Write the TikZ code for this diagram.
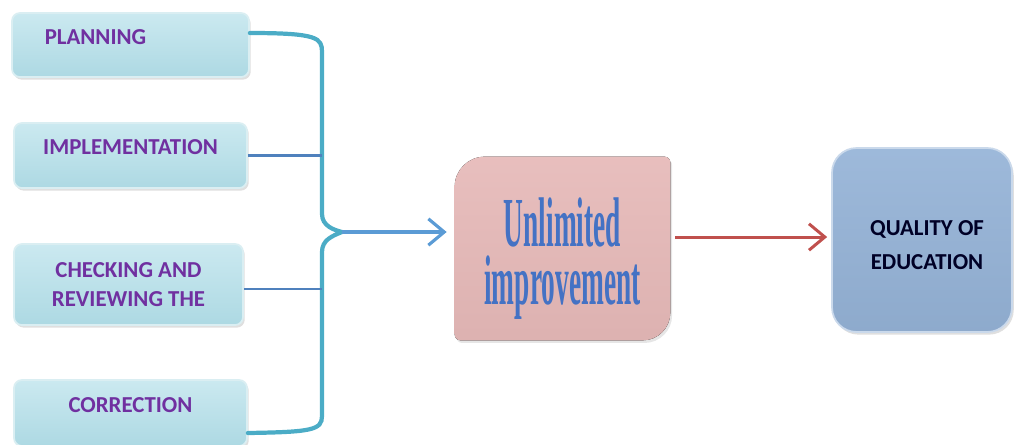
\documentclass[tikz,border=0pt]{standalone}
\usepackage{fontspec}
\setmainfont{Carlito}
\newfontfamily\condserif{Liberation Serif}
\usetikzlibrary{arrows.meta,shadows,backgrounds}
\definecolor{panelfill}{HTML}{ADD9E3}
\definecolor{paneltop}{HTML}{CBE9F0}
\definecolor{paneltext}{HTML}{7030A0}
\definecolor{bracecol}{HTML}{4BACC6}
\definecolor{linkcol}{HTML}{4F81BD}
\definecolor{arrowblue}{HTML}{5B9BD5}
\definecolor{pinkfill}{HTML}{E6B9B8}
\definecolor{redarrow}{HTML}{C0504D}
\definecolor{qualfill}{HTML}{95B3D7}
\definecolor{unltext}{HTML}{4472C4}
\def\lift#1{\raisebox{0.16cm}[\height][\depth]{#1}}
\def\sink#1{\raisebox{-0.2cm}[\height][\depth]{#1}}
\def\squeeze#1{\scalebox{0.39}[1]{#1}}

\begin{document}
\begin{tikzpicture}[x=0.02cm,y=-0.02cm,
  panel/.style={rounded corners=4.5pt,top color=paneltop,bottom color=panelfill,
    draw=white!55!panelfill,line width=1pt,
    drop shadow={opacity=0.25,shadow xshift=1pt,shadow yshift=-1.5pt},
    text=paneltext,font=\fontsize{13}{16.5}\selectfont\bfseries,align=center,
    minimum width=4.66cm,minimum height=1.3cm},
  brace/.style={draw=bracecol,line width=2.4pt,line cap=round},
  link/.style={draw=linkcol,line width=1.3pt},
  bluearrow/.style={draw=arrowblue,line width=1.8pt,
    -{Straight Barb[length=9pt,width=15pt,line width=1.8pt]},shorten >=0.16cm},
  redarr/.style={draw=redarrow,line width=1.7pt,
    -{Straight Barb[length=9pt,width=15pt,line width=1.7pt]},shorten <=0.1cm,shorten >=0.08cm},
  unlbox/.style={minimum width=4.3cm,minimum height=3.66cm,text=unltext,
    font=\condserif\bfseries\fontsize{40}{33}\selectfont,align=center},
  qualbox/.style={rounded corners=14pt,top color=qualfill!92!white,bottom color=qualfill!95!black,
    draw=white!50!qualfill,line width=1pt,
    drop shadow={opacity=0.25,shadow xshift=1pt,shadow yshift=-1.5pt},
    text=black!85!blue,font=\fontsize{13}{19}\selectfont\bfseries,align=center,
    minimum width=3.6cm,minimum height=3.68cm}]
\useasboundingbox (0,0) rectangle (1014,444);

\node[panel,minimum width=4.74cm,minimum height=1.28cm] (plan) at (130.5,45)
  {\lift{\hspace*{-1.4cm}PLANNING}};
\node[panel,minimum height=1.3cm] (impl) at (130.5,155.5) {\lift{IMPLEMENTATION}};
\node[panel,minimum width=4.58cm,minimum height=1.62cm] (check) at (128.5,284.5)
  {CHECKING AND\\REVIEWING THE};
\node[panel,minimum height=1.32cm] (corr) at (130.5,413) {\lift{CORRECTION}};

\node[unlbox] (unl) at (562.5,248.5)
  {\sink{\squeeze{Unlimited}}\\\sink{\squeeze{improvement}}};
\begin{scope}[on background layer]
\fill[top color=pinkfill!92!white,bottom color=pinkfill!96!black,
  drop shadow={opacity=0.2,shadow xshift=1pt,shadow yshift=-1.5pt}]
  ([yshift=-0.6cm]unl.north west)
    .. controls ([yshift=-0.27cm]unl.north west) and ([xshift=0.27cm]unl.north west) .. ([xshift=0.6cm]unl.north west)
  -- ([xshift=-0.12cm]unl.north east)
    .. controls ([xshift=-0.05cm]unl.north east) and ([yshift=-0.05cm]unl.north east) .. ([yshift=-0.12cm]unl.north east)
  -- ([yshift=0.55cm]unl.south east)
    .. controls ([yshift=0.25cm]unl.south east) and ([xshift=-0.25cm]unl.south east) .. ([xshift=-0.55cm]unl.south east)
  -- ([xshift=0.12cm]unl.south west)
    .. controls ([xshift=0.05cm]unl.south west) and ([yshift=0.05cm]unl.south west) .. ([yshift=0.12cm]unl.south west)
  -- cycle;
\end{scope}

\node[qualbox] (qual) at (922,240)
  {\raisebox{-0.1cm}[\height][\depth]{\hspace*{0.2cm}QUALITY OF}\\\raisebox{-0.1cm}[\height][\depth]{\hspace*{0.2cm}EDUCATION}};

\coordinate (tip) at (342,232);
\coordinate (spine) at (322,0);
\draw[brace] ([yshift=0.24cm]plan.east) .. controls (318,33) and (322,38) .. (322,52)
  -- (322,214) .. controls (322,226) and (334,230) .. (tip)
  .. controls (332,236) and (322,240) .. (322,252)
  -- (322,416) .. controls (322,430) and (312,432) .. ([yshift=-0.4cm]corr.east);
\draw[link] (impl.east) -- (impl.east -| spine);
\draw[link] ([yshift=-0.09cm]check.east) -- ([yshift=-0.09cm]check.east -| spine);
\draw[bluearrow] (tip) -- (tip -| unl.west);
\draw[redarr] ([yshift=0.23cm]unl.east) -- ([yshift=0.23cm]unl.east -| qual.west);
\end{tikzpicture}
\end{document}
